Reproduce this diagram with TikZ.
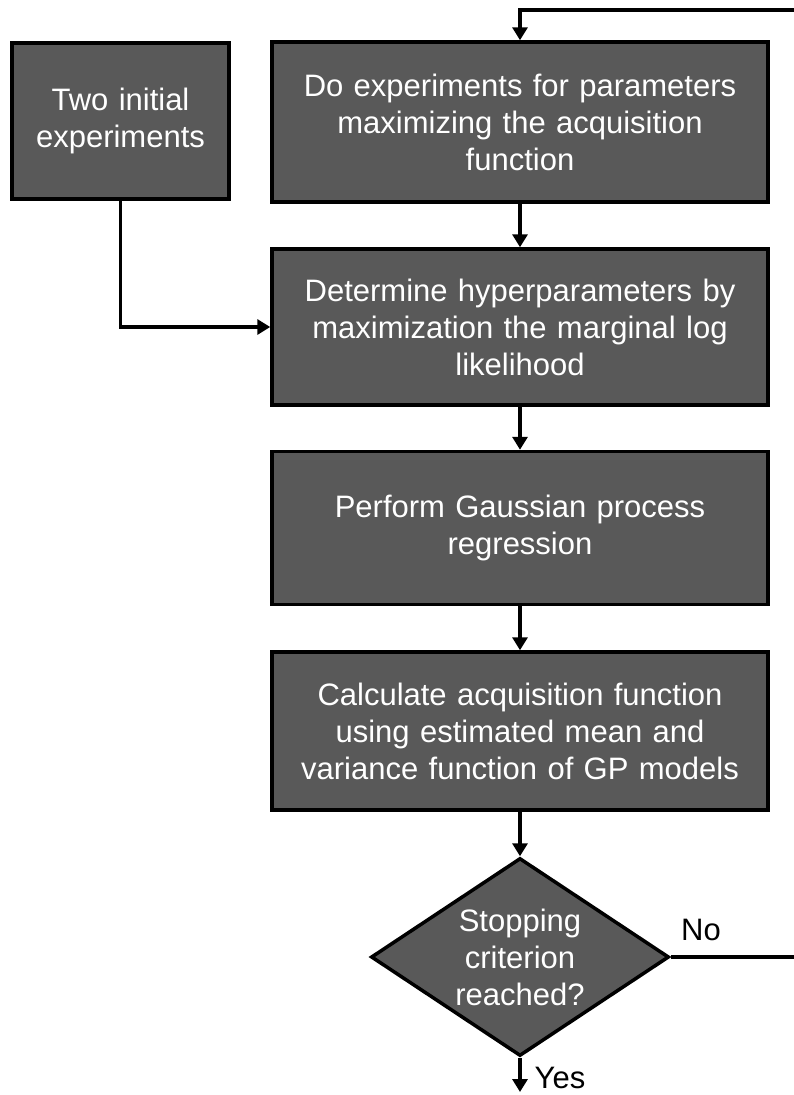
\documentclass[tikz,border=0pt]{standalone}
\usepackage{fontspec}
\setmainfont{Liberation Sans}
\usetikzlibrary{arrows.meta,shapes.geometric}
\definecolor{boxgray}{HTML}{595959}
\begin{document}
\begin{tikzpicture}[x=1pt,y=-1pt,
  every node/.style={font=\fontsize{31}{37}\selectfont},
  procbox/.style={draw=black,line width=3.5pt,fill=boxgray,text=white,
    rectangle,align=center,inner sep=0pt,minimum width=496pt,text width=480pt},
  decide/.style={draw=black,line width=3.5pt,fill=boxgray,text=white,
    diamond,aspect=1.5,align=center,inner sep=0pt,
    minimum width=298pt,minimum height=198pt},
  flow/.style={line width=3.5pt,-{Triangle[width=15pt,length=13pt]}},
  lbl/.style={text=black}]
\useasboundingbox (0,0) rectangle (794,1095);

% process steps
\node[procbox,minimum height=160pt] (doexp) at (520,122)
  {Do experiments for parameters\\maximizing the acquisition\\function};
\node[procbox,minimum height=156pt] (hyper) at (520,327)
  {Determine hyperparameters by\\maximization the marginal log\\likelihood};
\node[procbox,minimum height=153pt] (gpr) at (520,528)
  {Perform Gaussian process\\regression};
\node[procbox,minimum height=158pt] (acq) at (520,731)
  {Calculate acquisition function\\using estimated mean and\\variance function of GP models};
\node[procbox,minimum width=217pt,text width=205pt,minimum height=156pt] (init) at (120.5,121)
  {Two initial\\experiments};

% decision
\node[decide] (stop) at (520,957) {Stopping\\criterion\\reached?};

% connectors
\draw[flow] (doexp.south) -- (hyper.north);
\draw[flow] (hyper.south) -- (gpr.north);
\draw[flow] (gpr.south) -- (acq.north);
\draw[flow] (acq.south) -- (stop.north);
\draw[flow] (init.south) |- (hyper.west);

% feedback loop runs past the right edge of the page
\coordinate (loopR) at (802,957);
\coordinate (loopTR) at (802,10);
\coordinate (loopTL) at (520,10);
\coordinate (yesEnd) at (520,1092);
\draw[flow] (stop.east) -- (loopR) -- (loopTR) -- (loopTL) -- (doexp.north);
\draw[flow] (stop.south) -- (yesEnd);

% branch labels
\node[lbl] (nolbl) at (701,930) {No};
\node[lbl] (yeslbl) at (560,1078) {Yes};
\end{tikzpicture}
\end{document}
